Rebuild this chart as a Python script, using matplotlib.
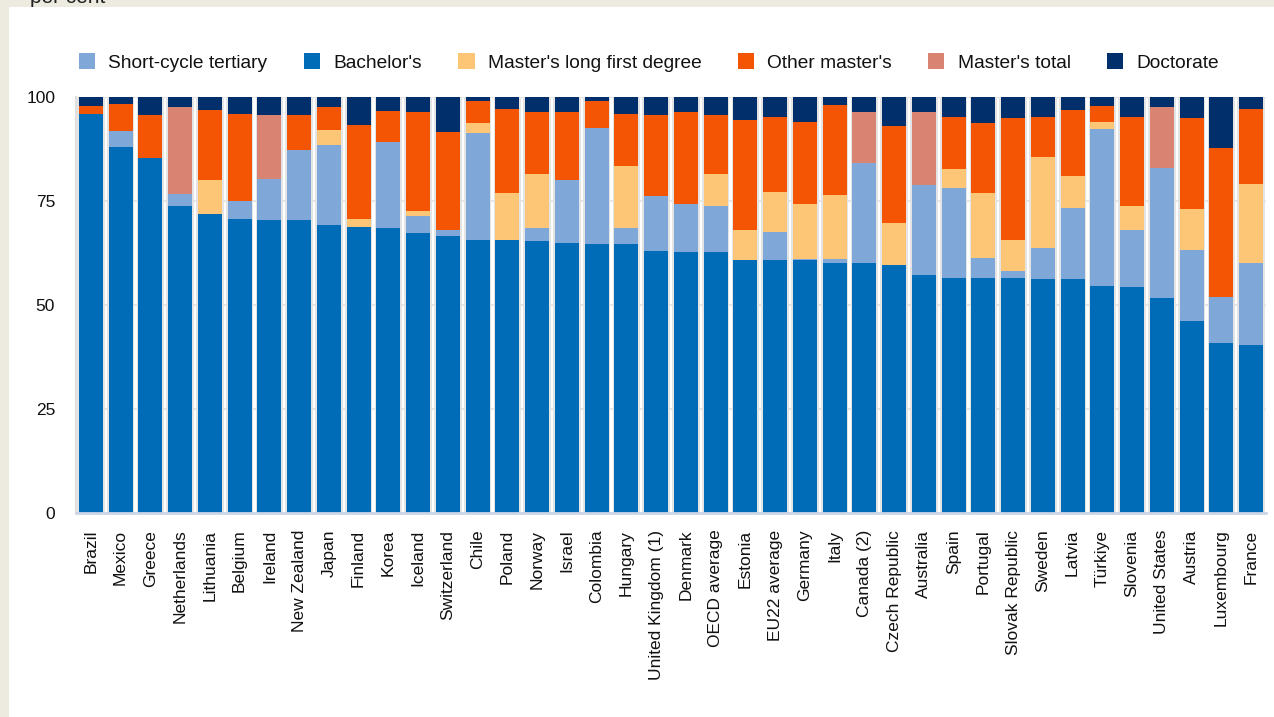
import matplotlib
matplotlib.use("Agg")
import matplotlib.pyplot as plt
from matplotlib.patches import Rectangle
import numpy as np

plt.rcParams['font.family'] = ['Liberation Sans', 'DejaVu Sans']

countries = ["Brazil", "Mexico", "Greece", "Netherlands", "Lithuania", "Belgium", "Ireland",
             "New Zealand", "Japan", "Finland", "Korea", "Iceland", "Switzerland", "Chile",
             "Poland", "Norway", "Israel", "Colombia", "Hungary", "United Kingdom (1)", "Denmark",
             "OECD average", "Estonia", "EU22 average", "Germany", "Italy", "Canada (2)",
             "Czech Republic", "Australia", "Spain", "Portugal", "Slovak Republic", "Sweden",
             "Latvia", "Türkiye", "Slovenia", "United States", "Austria", "Luxembourg", "France"]

short_cycle = [0, 3.8, 0, 3.0, 0, 4.3, 9.9, 16.9, 19.3, 0, 20.7, 4.1, 1.4, 25.7, 0, 3.1, 15.1,
               27.9, 3.9, 13.2, 11.6, 11.1, 0, 6.7, 0.2, 1.0, 24.1, 0, 21.6, 21.6, 4.8, 1.6,
               7.5, 17.1, 37.8, 13.7, 31.3, 17.1, 11.1, 19.8]
bachelors = [95.9, 88.0, 85.3, 73.8, 71.9, 70.7, 70.4, 70.4, 69.2, 68.7, 68.5, 67.3, 66.6, 65.6,
             65.6, 65.4, 64.9, 64.6, 64.6, 63.0, 62.7, 62.7, 60.8, 60.8, 60.8, 60.1, 60.1, 59.6,
             57.2, 56.5, 56.5, 56.5, 56.2, 56.2, 54.5, 54.3, 51.6, 46.1, 40.8, 40.3]
long_first = [0, 0, 0, 0, 8.1, 0, 0, 0, 3.6, 1.9, 0, 1.2, 0, 2.4, 11.3, 13.0, 0, 0, 14.9, 0, 0,
              7.7, 7.2, 9.6, 13.3, 15.4, 0, 10.1, 0, 4.6, 15.6, 7.5, 21.9, 7.7, 1.7, 5.8, 0,
              9.9, 0, 19.0]
other_masters = [1.9, 6.5, 10.4, 0, 16.9, 20.9, 0, 8.4, 5.5, 22.7, 7.4, 23.8, 23.6, 5.3, 20.2,
                 14.9, 16.4, 6.5, 12.5, 19.5, 22.1, 14.2, 26.5, 18.1, 19.7, 21.6, 0, 23.3, 0,
                 12.5, 16.8, 29.4, 9.6, 15.9, 3.8, 21.4, 0, 21.9, 35.8, 18.0]
masters_total = [0, 0, 0, 20.8, 0, 0, 15.4, 0, 0, 0, 0, 0, 0, 0, 0, 0, 0, 0, 0, 0, 0, 0, 0, 0,
                 0, 0, 12.3, 0, 17.6, 0, 0, 0, 0, 0, 0, 0, 14.7, 0, 0, 0]
doctorate = [2.2, 1.7, 4.3, 2.4, 3.1, 4.1, 4.3, 4.3, 2.4, 6.7, 3.4, 3.6, 8.4, 1.0, 2.9, 3.6, 3.6,
             1.0, 4.1, 4.3, 3.6, 4.3, 5.5, 4.8, 6.0, 1.9, 3.6, 7.0, 3.6, 4.8, 6.3, 5.0, 4.8,
             3.1, 2.2, 4.8, 2.4, 5.0, 12.3, 2.9]

series_names = ["Short-cycle tertiary", "Bachelor's", "Master's long first degree",
                "Other master's", "Master's total", "Doctorate"]
series_colors = ["#7FA8D9", "#006BB6", "#FDC576", "#F45504", "#D98473", "#002F6C"]
stack_order = [1, 0, 2, 3, 4, 5]  # bottom to top

data = [short_cycle, bachelors, long_first, other_masters, masters_total, doctorate]

W, H = 1274, 717
fig = plt.figure(figsize=(W / 100, H / 100), dpi=100)
fig.patch.set_facecolor("#EDEBE0")
fig.patches.append(Rectangle((9 / W, 0), 1 - 9 / W, 1 - 7 / H, transform=fig.transFigure,
                             facecolor="white", edgecolor="none", zorder=-5))
fig.text(30 / W, 1 - 3 / H, "per cent", fontsize=15, va="baseline", ha="left", color="#222222")

ax = fig.add_axes([76 / W, 1 - 513 / H, (1266 - 76) / W, (513 - 97) / H])
ax.set_zorder(2)
ax.set_facecolor("white")

x = np.arange(len(countries))
totals = np.sum(np.array(data), axis=0)
# shadow behind bars
ax.bar(x, totals, width=0.92, color="#E4E4E4", zorder=1, linewidth=0)

bottom = np.zeros(len(countries))
handles = {}
for idx in stack_order:
    vals = np.array(data[idx])
    b = ax.bar(x, vals, bottom=bottom, width=0.8, color=series_colors[idx], zorder=2,
               linewidth=0, label=series_names[idx])
    handles[idx] = b
    bottom += vals

ax.set_xlim(-0.5, len(countries) - 0.5)
ax.set_ylim(0, 100)
ax.set_yticks([0, 25, 50, 75, 100])
ax.set_yticklabels(["0", "25", "50", "75", "100"], fontsize=12.5, color="#111111")
ax.yaxis.grid(True, color="#E6E6E6", linewidth=1.5, zorder=0)
ax.set_axisbelow(True)
ax.tick_params(axis="y", length=0, pad=15)
ax.tick_params(axis="x", length=0, pad=12)
ax.set_xticks(x)
ax.set_xticklabels(countries, rotation=90, fontsize=12.5, color="#111111", va="top", ha="center")

for s in ["top", "right"]:
    ax.spines[s].set_visible(False)
ax.spines["left"].set_color("#E0E0E0")
ax.spines["left"].set_linewidth(1.5)
ax.spines["bottom"].set_color("#CDD6E8")
ax.spines["bottom"].set_linewidth(2)

leg = ax.legend([handles[i] for i in range(6)], series_names, ncol=6, loc="center left",
                bbox_to_anchor=(0.0025, 1.083), frameon=False, fontsize=13.8, handlelength=0.85,
                handleheight=0.85, handletextpad=0.68, columnspacing=1.9, borderaxespad=0,
                borderpad=0)
for t in leg.get_texts():
    t.set_color("#111111")

fig.savefig("out.png", dpi=100, facecolor=fig.get_facecolor())
